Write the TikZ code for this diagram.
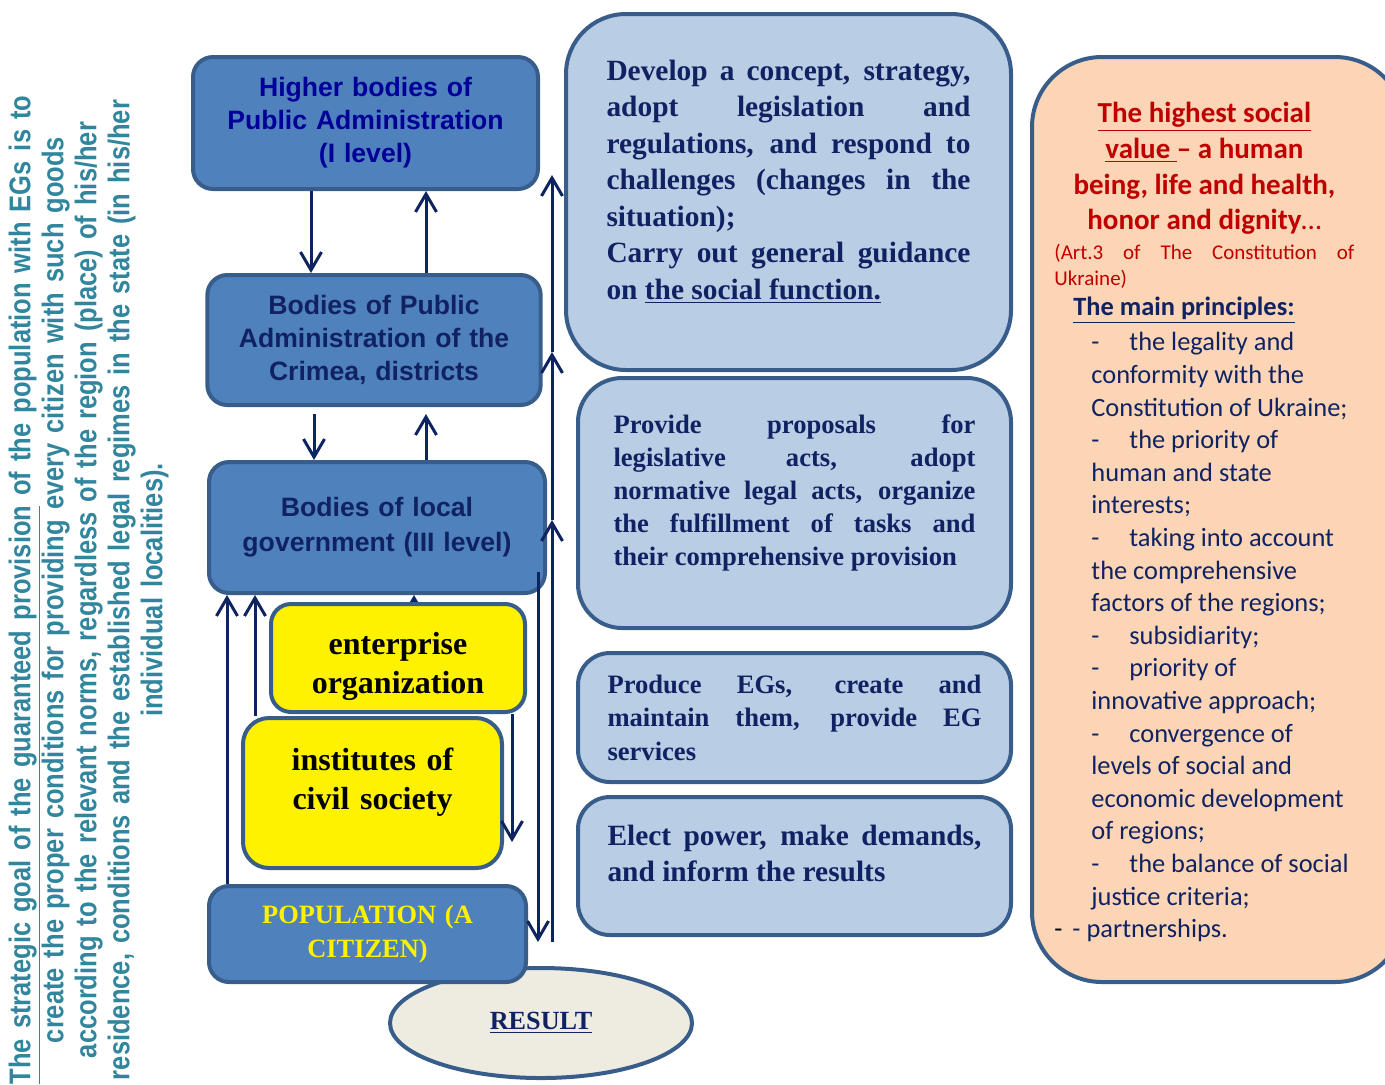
\documentclass[tikz,border=0pt]{standalone}
\usepackage{fontspec}
\setmainfont{Liberation Serif}
\newfontfamily\sansf{Liberation Sans}
\newfontfamily\calif{Carlito}
\newfontfamily\narrowf[FakeStretch=0.85]{Liberation Sans}
\usepackage{xcolor}
\usepackage{tikz}
\usetikzlibrary{shapes.geometric, arrows.meta, positioning}
\definecolor{boxblue}{HTML}{4F81BD}
\definecolor{boxedge}{HTML}{385D8A}
\definecolor{paleblue}{HTML}{B9CDE5}
\definecolor{peach}{HTML}{FBD5B5}
\definecolor{resultfill}{HTML}{EEECE1}
\definecolor{arrownavy}{HTML}{0E2461}
\definecolor{textnavy}{HTML}{102262}
\definecolor{deepblue}{HTML}{000099}
\definecolor{darkred}{HTML}{C00000}
\definecolor{tealtext}{HTML}{31859C}
\hyphenpenalty=10000
\exhyphenpenalty=10000
\tikzstyle{govbox} = [rectangle, rounded corners=10pt, draw=boxedge, line width=2pt, fill=boxblue, align=center]
\tikzstyle{civbox} = [rectangle, rounded corners=10pt, draw=boxedge, line width=2pt, fill=yellow]
\tikzstyle{civtext} = [align=center, text width=120pt, font=\fontsize{16}{19.5}\selectfont\bfseries]
\tikzstyle{taskbox} = [rectangle, rounded corners=22pt, draw=boxedge, line width=2pt, fill=paleblue, align=justify, text=textnavy]
\tikzstyle{arrow} = [line width=1.5pt, draw=arrownavy, -{Straight Barb[length=9pt,width=10.5pt]}]

\begin{document}
\begin{tikzpicture}[x=0.5pt, y=-0.5pt]
\useasboundingbox (0,0) rectangle (1385,1084);

% strategic goal, rotated
\node[rotate=90, text width=540pt, align=center, text=tealtext, font=\narrowf\fontsize{15}{16.5}\selectfont\bfseries] (goal) at (88.5,590) {%
\underline{The strategic goal of the guaranteed provision} of the population with EGs is to\\
create the proper conditions for providing every citizen with such goods\\
according to the relevant norms, regardless of the region (place) of his/her\\
residence, conditions and the established legal regimes in the state (in his/her\\
individual localities).};

% levels of government
\node[govbox, minimum width=172.5pt, minimum height=66pt, text width=165pt, text=deepblue, font=\sansf\fontsize{13.3}{16.5}\selectfont\bfseries] (high) at (365.5,123) {Higher bodies of\\Public Administration\\(I level)};
\node[govbox, minimum width=165pt, minimum height=65pt, text width=160pt, text=textnavy, font=\sansf\fontsize{13.3}{16.5}\selectfont\bfseries] (crim) at (374,340) {Bodies of Public\\Administration of the\\Crimea, districts};
\node[govbox, minimum width=168pt, minimum height=65.5pt, text width=160pt, text=textnavy, font=\sansf\fontsize{13.3}{17.5}\selectfont\bfseries] (loc) at (377,527.5) {Bodies of local\\government (III level)};

\coordinate (ent-up) at (414,640);
\draw[arrow] (ent-up) -- (loc.south -| ent-up);

\node[civbox, minimum width=127pt, minimum height=54pt] (ent) at (398,658) {};
\node[civtext] (ent-txt) at (398,666.5) {enterprise\\organization};
\node[civbox, rounded corners=13pt, minimum width=129.5pt, minimum height=75pt] (inst) at (372.5,793) {};
\node[civtext] (inst-txt) at (372.5,782.5) {institutes of\\civil society};

\node[ellipse, draw=boxedge, line width=2pt, fill=resultfill, minimum width=151pt, minimum height=55pt, text=textnavy, font=\fontsize{13.1}{15}\selectfont\bfseries] (res) at (541,1023) {\underline{RESULT}};
\node[govbox, font=\fontsize{13.2}{17}\selectfont\bfseries, text=yellow, minimum width=158.5pt, minimum height=48pt, text width=150pt] (pop) at (367.5,934) {POPULATION (A\\CITIZEN)};

% tasks
\node[taskbox, rounded corners=30pt, minimum width=222.5pt, minimum height=178pt, text width=182pt, font=\fontsize{14.7}{18.25}\selectfont\bfseries] (task1) at (788.5,192) {Develop a concept, strategy,\linebreak adopt legislation and\linebreak regulations, and respond to\linebreak challenges (changes in the\linebreak situation);\par Carry out general guidance\linebreak on \underline{the social function.}\par\vspace*{10.5pt}};
\node[taskbox, minimum width=216.5pt, minimum height=125pt, text width=181pt, font=\fontsize{13.3}{16.5}\selectfont\bfseries] (task2) at (794.5,503) {Provide proposals for\linebreak legislative acts, adopt\linebreak normative legal acts, organize\linebreak the fulfillment of tasks and\linebreak their comprehensive provision\par\vspace*{10pt}};
\node[taskbox, rounded corners=16pt, minimum width=216.5pt, minimum height=64.5pt, text width=187pt, font=\fontsize{13.3}{16.75}\selectfont\bfseries] (task3) at (794.5,717.5) {Produce EGs, create and maintain them, provide EG services};
\node[taskbox, rounded corners=16pt, minimum width=216.5pt, minimum height=69pt, text width=187pt, font=\fontsize{14.7}{18}\selectfont\bfseries] (task4) at (794.5,866) {Elect power, make demands, and inform the results\par\vspace*{13pt}};

% values and principles
\node[rectangle, rounded corners=35pt, draw=boxedge, line width=2pt, fill=peach, minimum width=186.5pt, minimum height=462.5pt] (vals) at (1218.5,519.5) {};
\node[anchor=north west, text width=150pt, inner sep=0pt, align=justify, font=\calif] (princ) at (1054,102) {%
{\centering\fontsize{14.5}{17.85}\selectfont\bfseries\color{darkred}
\underline{The highest social}\\ \underline{value\ }– a human\\ being, life and health,\\ honor and dignity{\mdseries …}\par}
\vspace{2pt}
{\fontsize{10.5}{13}\selectfont\color{darkred}(Art.3 of The Constitution of Ukraine)\par}
{\fontsize{13.2}{15}\selectfont\bfseries\color{textnavy}\hspace*{9.5pt}\underline{The main principles:}\par}
\vspace{1.2pt}
{\fontsize{13.2}{16.3}\selectfont\color{textnavy}\raggedright\leftskip=18.5pt
\makebox[19pt][l]{-}the legality and\\conformity with the\\Constitution of Ukraine;\par
\makebox[19pt][l]{-}the priority of\\human and state\\interests;\par
\makebox[19pt][l]{-}taking into account\\the comprehensive\\factors of the regions;\par
\makebox[19pt][l]{-}subsidiarity;\par
\makebox[19pt][l]{-}priority of\\innovative approach;\par
\makebox[19pt][l]{-}convergence of\\levels of social and\\economic development\\of regions;\par
\makebox[19pt][l]{-}the balance of social\\justice criteria;\par
\leftskip=0pt {\color{black}-}\hspace{5pt}- partnerships.\par}
};

% connectors
\coordinate (crim-dn) at (314,414);
\coordinate (crim-up) at (426,414);
\coordinate (ent-end) at (512,842);
\coordinate (loc-out) at (538,572);
\coordinate (pop-in) at (538,942);
\coordinate (feed0) at (552,942);
\coordinate (feed1) at (552,520);
\coordinate (feed2) at (552,352);
\coordinate (feed3) at (552,175);

\draw[arrow] (high.south -| 311,0) -- (crim.north -| 311,0);
\draw[arrow] (crim.north -| 426,0) -- (high.south -| 426,0);
\draw[arrow] (crim-dn) -- (loc.north -| crim-dn);
\draw[arrow] (loc.north -| crim-up) -- (crim-up);
\draw[arrow] (pop.north -| 227,0) -- (loc.south -| 227,0);
\draw[arrow] (inst.north -| 255,0) -- (loc.south -| 255,0);
\draw[arrow] (ent.south -| ent-end) -- (ent-end);
\draw[arrow] (loc-out) -- (pop-in);
\draw[arrow] (feed0) -- (feed1);
\draw[arrow] (feed1) -- (feed2);
\draw[arrow] (feed2) -- (feed3);
\end{tikzpicture}
\end{document}
